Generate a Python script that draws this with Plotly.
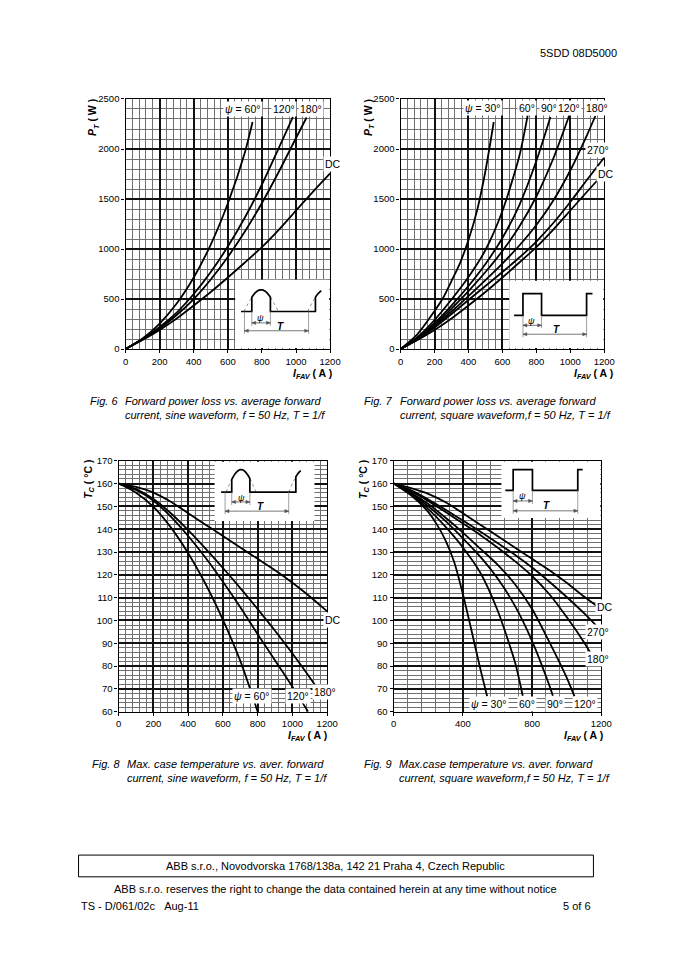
import math
import plotly.graph_objects as go

# The page keeps the browser's default 8px body margin, so the figure is
# sized to fill the 679x960 window exactly inside that margin.
PAGE_W, PAGE_H = 679, 960
OFF = 8
W, H = PAGE_W - 2 * OFF, PAGE_H - 2 * OFF
FONT = "Liberation Sans, Arial, sans-serif"

# ---------------- data ----------------
# Fig. 6 – forward power loss, sine waveform
I6_60 = [0, 100, 200, 300, 400, 500, 600, 700, 745]
P6_60 = [0, 105, 255, 455, 715, 1045, 1455, 1965, 2270]
I6_120 = [0, 100, 200, 300, 400, 500, 600, 700, 800, 900, 982]
P6_120 = [0, 100, 220, 365, 550, 770, 1025, 1315, 1645, 2015, 2320]
I6_180 = [0, 100, 200, 300, 400, 500, 600, 700, 800, 900, 1000, 1062]
P6_180 = [0, 98, 205, 340, 500, 695, 920, 1175, 1460, 1775, 2110, 2315]
I6_DC = [0, 100, 200, 300, 400, 500, 600, 700, 800, 900, 1000, 1100, 1200]
P6_DC = [0, 90, 190, 305, 435, 570, 715, 865, 1020, 1195, 1385, 1575, 1757]

# Fig. 7 – forward power loss, square waveform
I7_30 = [0, 100, 200, 250, 300, 350, 400, 450, 500, 549]
P7_30 = [0, 150, 380, 510, 680, 860, 1090, 1380, 1780, 2270]
I7_60 = [0, 100, 200, 300, 400, 500, 600, 700, 749]
P7_60 = [0, 120, 290, 495, 720, 990, 1380, 1930, 2336]
I7_90 = [0, 100, 200, 300, 400, 500, 600, 700, 800, 883]
P7_90 = [0, 110, 260, 435, 630, 850, 1110, 1440, 1880, 2320]
I7_120 = [0, 100, 200, 300, 400, 500, 600, 700, 800, 900, 995]
P7_120 = [0, 105, 245, 405, 580, 770, 980, 1225, 1525, 1905, 2340]
I7_180 = [0, 100, 200, 300, 400, 500, 600, 700, 800, 900, 1000, 1100, 1148]
P7_180 = [0, 100, 230, 375, 530, 690, 855, 1035, 1240, 1485, 1785, 2145, 2330]
I7_270 = [0, 100, 200, 300, 400, 500, 600, 700, 800, 900, 1000, 1100, 1200]
P7_270 = [0, 95, 215, 350, 490, 630, 770, 915, 1075, 1260, 1470, 1695, 1915]
I7_DC = [0, 100, 200, 300, 400, 500, 600, 700, 800, 900, 1000, 1100, 1167]
P7_DC = [0, 90, 190, 305, 435, 570, 715, 865, 1020, 1195, 1385, 1575, 1700]

# Fig. 8 – max case temperature, sine waveform
I8_60 = [0, 100, 200, 300, 400, 500, 600, 700, 750, 800]
T8_60 = [160, 156, 149.8, 140.8, 129.5, 116, 100.3, 82.3, 71.5, 60]
I8_120 = [0, 100, 200, 300, 400, 500, 600, 700, 800, 900, 1000, 1050, 1090]
T8_120 = [160, 157.2, 152.5, 145.5, 137, 127.5, 117, 105.8, 94, 82.5, 71, 65, 60]
I8_180 = [0, 100, 200, 300, 400, 500, 600, 700, 800, 900, 1000, 1100, 1145]
T8_180 = [160, 157.6, 153.2, 147, 139.6, 131.5, 123, 114.2, 105, 95.5, 85.5, 75, 70]
I8_DC = [0, 100, 200, 300, 400, 500, 600, 700, 800, 900, 1000, 1100, 1200]
T8_DC = [160, 158.5, 156, 152, 147, 142, 137, 132, 127, 122, 116.5, 110.5, 104]

# Fig. 9 – max case temperature, square waveform
I9_30 = [0, 100, 200, 250, 300, 350, 400, 450, 500, 540]
T9_30 = [160, 154.8, 147.5, 142, 135, 125.5, 111.5, 95.5, 79, 66.8]
I9_60 = [0, 100, 200, 300, 400, 500, 600, 700, 746]
T9_60 = [160, 155.2, 148.8, 141, 132, 121, 104.5, 82, 67]
I9_90 = [0, 100, 200, 300, 400, 500, 600, 700, 800, 900, 920]
T9_90 = [160, 155.6, 150, 143.5, 136, 128, 118.5, 106.5, 91, 71.5, 67]
I9_120 = [0, 100, 200, 300, 400, 500, 600, 700, 800, 900, 1000, 1045]
T9_120 = [160, 156, 151, 145, 138.5, 131.5, 124.5, 116, 105, 90.5, 75, 66.8]
I9_180 = [0, 100, 200, 300, 400, 500, 600, 700, 800, 900, 1000, 1100, 1136]
T9_180 = [160, 156.6, 152.3, 147.5, 142.5, 137.5, 132, 126, 119.5, 111.5, 101.5, 90.5, 86]
I9_270 = [0, 100, 200, 300, 400, 500, 600, 700, 800, 900, 1000, 1100, 1168]
T9_270 = [160, 157, 153, 148.5, 143.8, 139, 134, 128.8, 123.2, 117, 110.3, 103.2, 98]
I9_DC = [0, 100, 200, 300, 400, 500, 600, 700, 800, 900, 1000, 1100, 1177]
T9_DC = [160, 158, 155.5, 151.8, 147, 142, 137, 132, 127, 122, 116.5, 110.5, 106.2]


# ---------------- helpers (page pixel -> paper fraction) ----------------
def px(x):
    return (x - OFF) / W


def py(y):
    return 1 - (y - OFF) / H


fig = go.Figure()

curve_sets = [
    ("x", "y", [(I6_60, P6_60), (I6_120, P6_120), (I6_180, P6_180), (I6_DC, P6_DC)]),
    ("x2", "y2", [(I7_30, P7_30), (I7_60, P7_60), (I7_90, P7_90), (I7_120, P7_120),
                  (I7_180, P7_180), (I7_270, P7_270), (I7_DC, P7_DC)]),
    ("x3", "y3", [(I8_60, T8_60), (I8_120, T8_120), (I8_180, T8_180), (I8_DC, T8_DC)]),
    ("x4", "y4", [(I9_30, T9_30), (I9_60, T9_60), (I9_90, T9_90), (I9_120, T9_120),
                  (I9_180, T9_180), (I9_270, T9_270), (I9_DC, T9_DC)]),
]
for xa, ya, curves in curve_sets:
    for xs, ys in curves:
        fig.add_trace(go.Scatter(x=xs, y=ys, xaxis=xa, yaxis=ya, mode="lines",
                                 line=dict(color="black", width=1.8, shape="spline", smoothing=0.7),
                                 showlegend=False, hoverinfo="skip"))

# plot areas in page pixels (left, right, top, bottom)
areas = {
    1: (125, 334, 94, 347),
    2: (406, 614, 94, 347),
    3: (118, 331, 460, 714),
    4: (399, 611, 460, 714),
}
tickfont = dict(family=FONT, size=9.5, color="black")
MAJ = dict(showgrid=True, gridcolor="#111111", gridwidth=1.5)
MIN_COLOR = "#707070"


def xaxis_cfg(n, dtick, minor):
    x0, x1, y0, y1 = areas[n]
    return dict(domain=[px(x0), px(x1)], range=[0, 1200], dtick=dtick, tick0=0,
                anchor="y" if n == 1 else f"y{n}", **MAJ,
                minor=dict(dtick=minor, showgrid=True, gridcolor=MIN_COLOR, gridwidth=0.8),
                zeroline=False, showline=True, mirror=True, linecolor="black", linewidth=1.4,
                ticks="outside", ticklen=3, tickcolor="black", tickfont=tickfont,
                fixedrange=True)


def yaxis_cfg(n, rng, dtick, minor):
    x0, x1, y0, y1 = areas[n]
    return dict(domain=[py(y1), py(y0)], range=rng, dtick=dtick, tick0=0,
                anchor="x" if n == 1 else f"x{n}", **MAJ,
                minor=dict(dtick=minor, showgrid=True, gridcolor=MIN_COLOR, gridwidth=0.8),
                zeroline=False, showline=True, mirror=True, linecolor="black", linewidth=1.4,
                ticks="outside", ticklen=3, tickcolor="black", tickfont=tickfont,
                fixedrange=True)


fig.update_layout(
    width=W, height=H, margin=dict(l=0, r=0, t=0, b=0),
    paper_bgcolor="white", plot_bgcolor="white", showlegend=False,
    xaxis=xaxis_cfg(1, 200, 40), yaxis=yaxis_cfg(1, [0, 2500], 500, 100),
    xaxis2=xaxis_cfg(2, 200, 40), yaxis2=yaxis_cfg(2, [0, 2500], 500, 100),
    xaxis3=xaxis_cfg(3, 200, 40), yaxis3=yaxis_cfg(3, [60, 170], 10, 2),
    xaxis4=xaxis_cfg(4, 400, 80), yaxis4=yaxis_cfg(4, [60, 170], 10, 2),
)

ann = []
shapes = []


def text(x, y, s, size=11, xanchor="center", yanchor="middle", angle=0):
    ann.append(dict(x=px(x), y=py(y), xref="paper", yref="paper", text=s, showarrow=False,
                    xanchor=xanchor, yanchor=yanchor, textangle=angle,
                    font=dict(family=FONT, size=size, color="black")))


def label(xr, yr, x, y, s):
    ann.append(dict(x=x, y=y, xref=xr, yref=yr, text=s, showarrow=False,
                    xanchor="center", yanchor="middle", bgcolor="white", borderpad=1,
                    font=dict(family=FONT, size=10.5, color="black")))


def plabel(x, y, s):
    ann.append(dict(x=px(x), y=py(y), xref="paper", yref="paper", text=s, showarrow=False,
                    xanchor="center", yanchor="middle", bgcolor="white", borderpad=1,
                    font=dict(family=FONT, size=10.5, color="black")))


# axis titles
for cx, cy in [(92, 113), (373, 113)]:
    text(cx, cy, "<b><i>P<sub>T</sub></i> ( W )</b>", size=10.5, angle=-90)
for cx, cy in [(87, 479), (368, 479)]:
    text(cx, cy, "<b><i>T<sub>C</sub></i> ( °C )</b>", size=10.5, angle=-90)
for cx, cy in [(316, 372), (603, 372), (311, 739), (593, 739)]:
    text(cx, cy, "<b><i>I<sub>FAV</sub></i> ( A )</b>", size=10.5)

# curve labels
psi = "<i>ψ</i>"
label("x", "y", 689, 2400, psi + " = 60°")
label("x", "y", 930, 2400, "120°")
label("x", "y", 1085, 2400, "180°")
plabel(337, 160, "DC")

label("x2", "y2", 485, 2409, psi + " = 30°")
label("x2", "y2", 744, 2409, "60°")
label("x2", "y2", 877, 2409, "90°")
label("x2", "y2", 993, 2409, "120°")
label("x2", "y2", 1160, 2409, "180°")
label("x2", "y2", 1166, 1994, "270°")
plabel(616, 170, "DC")

label("x3", "y3", 766, 66.9, psi + " = 60°")
label("x3", "y3", 1031, 66.9, "120°")
label("x3", "y3", 1189, 68.7, "180°")
plabel(337, 621, "DC")

label("x4", "y4", 549, 63.2, psi + " = 30°")
label("x4", "y4", 770, 63.2, "60°")
label("x4", "y4", 934, 63.2, "90°")
label("x4", "y4", 1104, 63.2, "120°")
plabel(615, 608, "DC")
label("x4", "y4", 1183, 95.1, "270°")
label("x4", "y4", 1183, 83, "180°")


# ---------------- inset waveform diagrams ----------------
def path_of(pts, close=False):
    s = "M " + " L ".join(f"{px(x):.5f},{py(y):.5f}" for x, y in pts)
    return s + (" Z" if close else "")


def add_path(pts, width=1.6, color="black", dash="solid", fill=None, close=False):
    d = dict(type="path", xref="paper", yref="paper", path=path_of(pts, close),
             line=dict(color=color, width=width, dash=dash), layer="above")
    if fill:
        d["fillcolor"] = fill
    shapes.append(d)


def add_rect(x0, y0, x1, y1):
    shapes.append(dict(type="rect", xref="paper", yref="paper", x0=px(x0), x1=px(x1),
                       y0=py(y1), y1=py(y0), fillcolor="white", line=dict(width=0),
                       layer="above"))


def sine_pts(xa, xb, hs, hl, base, amp, n=18):
    out = []
    for k in range(n + 1):
        x = xa + (xb - xa) * k / n
        out.append((x, base - amp * math.sin((x - hs) / hl * math.pi)))
    return out


def darrow(xa, xb, y):
    c = "#555"
    add_path([(xa, y), (xb, y)], 0.8, c)
    add_path([(xa, y), (xa + 4, y - 1.6), (xa + 4, y + 1.6)], 0.5, c, fill=c, close=True)
    add_path([(xb, y), (xb - 4, y - 1.6), (xb - 4, y + 1.6)], 0.5, c, fill=c, close=True)


def vline(x, y0, y1):
    shapes.append(dict(type="line", xref="paper", yref="paper", x0=px(x), x1=px(x),
                       y0=py(y0), y1=py(y1), line=dict(color="#777", width=0.7),
                       layer="above"))


def sine_inset(box, base, hs, hl, amp, c0, c1, hs2, c2, xend, bl0, ya, yt, tl, tr, psi_xy, t_xy):
    add_rect(*box)
    add_path(sine_pts(hs, c0, hs, hl, base, amp, 6), 0.8, "#777", "dot")
    add_path(sine_pts(c1, hs + hl, hs, hl, base, amp, 6), 0.8, "#777", "dot")
    add_path(sine_pts(hs2, c2, hs2, hl, base, amp, 6), 0.8, "#777", "dot")
    pts = [(bl0, base), (c0, base)] + sine_pts(c0, c1, hs, hl, base, amp) + [(c1, base), (c2, base)]
    pts += sine_pts(c2, xend, hs2, hl, base, amp, 6)
    add_path(pts, 1.7)
    vline(c0, base, ya + 3)
    vline(c1, base, ya + 3)
    vline(tl, base, yt + 3)
    vline(tr, base, yt + 3)
    darrow(c0, c1, ya)
    darrow(tl, tr, yt)
    text(psi_xy[0], psi_xy[1], "<i>ψ</i>", size=9)
    text(t_xy[0], t_xy[1], "<b><i>T</i></b>", size=10)


def square_inset(box, base, top, bl0, r1, f1, r2, xend, ya, yt, psi_xy, t_xy):
    add_rect(*box)
    pts = [(bl0, base), (r1, base), (r1, top), (f1, top), (f1, base), (r2, base), (r2, top), (xend, top)]
    add_path(pts, 1.7)
    vline(r1, base, yt + 3)
    vline(f1, base, ya + 3)
    vline(r2, base, yt + 3)
    darrow(r1, f1, ya)
    darrow(r1, r2, yt)
    text(psi_xy[0], psi_xy[1], "<i>ψ</i>", size=9)
    text(t_xy[0], t_xy[1], "<b><i>T</i></b>", size=10)


# Fig. 6 inset
sine_inset((237, 277, 333, 346), base=309, hs=246, hl=35, amp=22, c0=254, c1=273,
           hs2=311, c2=319, xend=325, bl0=243, ya=320.5, yt=328.5,
           tl=246.5, tr=312, psi_xy=(263, 315.5), t_xy=(283, 324))
# Fig. 7 inset
square_inset((517, 278, 613, 346), base=313, top=291, bl0=522, r1=531, f1=550, r2=596,
             xend=602, ya=323, yt=332, psi_xy=(540, 318.5), t_xy=(565, 327.5))
# Fig. 8 inset
sine_inset((216, 461, 318, 521), base=491.7, hs=227.7, hl=30.6, amp=22.7, c0=233.5,
           c1=252, hs2=291.7, c2=299, xend=304, bl0=222.7, ya=501.7, yt=511,
           tl=226.7, tr=291.7, psi_xy=(243.3, 497.5), t_xy=(263.3, 506.5))
# Fig. 9 inset
square_inset((509, 461, 610, 518), base=490, top=469, bl0=513, r1=521, f1=540.7, r2=587,
             xend=592, ya=500.7, yt=510.7, psi_xy=(531, 496), t_xy=(555, 505.5))

# ---------------- page texts ----------------
text(629, 47, "5SDD 08D5000", size=11, xanchor="right")

cap = [
    (87, 122, 400, "Fig. 6", "Forward power loss vs. average forward",
     "current, sine waveform, <i>f</i> = 50 Hz, <i>T</i> = 1/<i>f</i>"),
    (367, 403, 400, "Fig. 7", "Forward power loss vs. average forward",
     "current, square waveform,<i>f</i> = 50 Hz, <i>T</i> = 1/<i>f</i>"),
    (89, 124, 767, "Fig. 8", "Max. case temperature vs. aver. forward",
     "current, sine waveform, <i>f</i> = 50 Hz, <i>T</i> = 1/<i>f</i>"),
    (367, 402, 767, "Fig. 9", "Max.case temperature vs. aver. forward",
     "current, square waveform,<i>f</i> = 50 Hz, <i>T</i> = 1/<i>f</i>"),
]
for xf, xt, yy, f, l1, l2 in cap:
    text(xf, yy, "<i>" + f + "</i>", size=11, xanchor="left")
    text(xt, yy, "<i>" + l1 + "</i>", size=11, xanchor="left")
    text(xt, yy + 14, "<i>" + l2 + "</i>", size=11, xanchor="left")

shapes.append(dict(type="rect", xref="paper", yref="paper", x0=px(77), x1=px(603),
                   y0=py(881), y1=py(859), line=dict(color="black", width=1), layer="above"))
text(340, 870, "ABB s.r.o., Novodvorska 1768/138a, 142 21 Praha 4, Czech Republic", size=11)
text(340, 893, "ABB s.r.o. reserves the right to change the data contained herein at any time without notice", size=11)
text(77, 911, "TS - D/061/02c&nbsp;&nbsp;&nbsp;Aug-11", size=11, xanchor="left")
text(603, 911, "5 of 6", size=11, xanchor="right")

fig.update_layout(annotations=ann, shapes=shapes)
fig.write_html("out.html", config={"displayModeBar": False})
